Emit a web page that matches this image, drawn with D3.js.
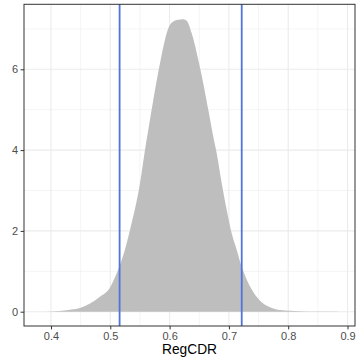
<!DOCTYPE html>
<html>
<head>
<meta charset="utf-8">
<script src="https://cdn.jsdelivr.net/npm/d3@7"></script>
<style>
  html, body { margin: 0; padding: 0; background: #fff; }
  svg { display: block; }
</style>
</head>
<body>
<svg id="chart" width="360" height="360"></svg>
<script>
// Density curve of RegCDR
const regcdr = [0.380, 0.400, 0.4152, 0.4300, 0.4489, 0.4658, 0.4826, 0.4995, 0.5079, 0.5152, 0.5240, 0.5332, 0.5501, 0.5585, 0.5669, 0.5754, 0.5838, 0.5922, 0.6007, 0.6120, 0.6231, 0.6300, 0.6373, 0.6484, 0.6568, 0.6653, 0.6737, 0.6794, 0.6879, 0.6963, 0.7047, 0.7132, 0.7216, 0.7300, 0.7380, 0.7525, 0.7693, 0.7862, 0.8030, 0.8199, 0.8450, 0.8700, 0.887];
const density = [0.000, 0.006, 0.020, 0.045, 0.090, 0.200, 0.370, 0.600, 0.850, 1.110, 1.500, 2.020, 3.180, 4.000, 4.750, 5.490, 6.150, 6.730, 7.100, 7.220, 7.240, 7.180, 6.890, 6.230, 5.650, 4.990, 4.330, 3.920, 3.180, 2.520, 1.940, 1.530, 1.110, 0.800, 0.560, 0.270, 0.110, 0.040, 0.022, 0.014, 0.006, 0.002, 0.000];
// Vertical reference lines
const vlines = [0.5157, 0.7216];
// Axis ticks
const xTicks = [0.4, 0.5, 0.6, 0.7, 0.8, 0.9];
const xMinor = [0.45, 0.55, 0.65, 0.75, 0.85];
const yTicks = [0, 2, 4, 6];
const yMinor = [1, 3, 5, 7];
const xTitle = "RegCDR";

const svg = d3.select("#chart");
const pL = 24, pR = 355, pT = 4.3, pB = 326;

const x = d3.scaleLinear().domain([0.3545, 0.9126]).range([pL, pR]);
const y = d3.scaleLinear().domain([-0.354, 7.609]).range([pB, pT]);

const font = "'Liberation Sans', Arial, Helvetica, sans-serif";

// panel background
svg.append("rect").attr("x", pL).attr("y", pT)
  .attr("width", pR - pL).attr("height", pB - pT).attr("fill", "#fff");

// grid
const grid = svg.append("g");
grid.selectAll(".xmin").data(xMinor).join("line")
  .attr("x1", d => x(d)).attr("x2", d => x(d)).attr("y1", pT).attr("y2", pB)
  .attr("stroke", "#ebebeb").attr("stroke-width", 0.55);
grid.selectAll(".ymin").data(yMinor).join("line")
  .attr("y1", d => y(d)).attr("y2", d => y(d)).attr("x1", pL).attr("x2", pR)
  .attr("stroke", "#ebebeb").attr("stroke-width", 0.55);
grid.selectAll(".xmaj").data(xTicks).join("line")
  .attr("x1", d => x(d)).attr("x2", d => x(d)).attr("y1", pT).attr("y2", pB)
  .attr("stroke", "#ebebeb").attr("stroke-width", 1.1);
grid.selectAll(".ymaj").data(yTicks).join("line")
  .attr("y1", d => y(d)).attr("y2", d => y(d)).attr("x1", pL).attr("x2", pR)
  .attr("stroke", "#ebebeb").attr("stroke-width", 1.1);

// density area
const pts = regcdr.map((v, i) => [v, density[i]]);
const area = d3.area()
  .x(d => x(d[0])).y0(y(0)).y1(d => y(d[1]))
  .curve(d3.curveMonotoneX);
svg.append("path").datum(pts).attr("d", area).attr("fill", "#bebebe");

// vertical lines
svg.selectAll(".vl").data(vlines).join("line")
  .attr("x1", d => x(d)).attr("x2", d => x(d)).attr("y1", pT).attr("y2", pB)
  .attr("stroke", "#4f74dc").attr("stroke-width", 1.8);

// panel border
svg.append("rect").attr("x", pL).attr("y", pT)
  .attr("width", pR - pL).attr("height", pB - pT)
  .attr("fill", "none").attr("stroke", "#333").attr("stroke-width", 1);

// axes
const xAxis = d3.axisBottom(x).tickValues(xTicks).tickSize(3.4).tickPadding(2.5)
  .tickFormat(d3.format(".1f"));
const gx = svg.append("g").attr("transform", `translate(0,${pB})`).call(xAxis);
gx.select(".domain").remove();
gx.selectAll("line").attr("stroke", "#333");
gx.selectAll("text").attr("fill", "#4d4d4d").attr("font-family", font).attr("font-size", 11);

const yAxis = d3.axisLeft(y).tickValues(yTicks).tickSize(3.4).tickPadding(2.5)
  .tickFormat(d3.format("d"));
const gy = svg.append("g").attr("transform", `translate(${pL},0)`).call(yAxis);
gy.select(".domain").remove();
gy.selectAll("line").attr("stroke", "#333");
gy.selectAll("text").attr("fill", "#4d4d4d").attr("font-family", font).attr("font-size", 11);

// axis title
svg.append("text").attr("x", (pL + pR) / 2).attr("y", 354)
  .attr("text-anchor", "middle").attr("font-family", font).attr("font-size", 13.75)
  .attr("fill", "#000").text(xTitle);
</script>
</body>
</html>
